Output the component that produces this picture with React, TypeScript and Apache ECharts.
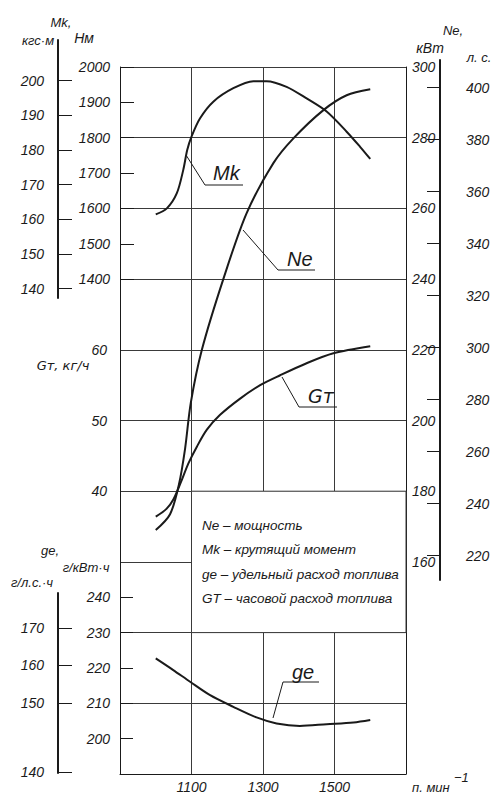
import React, { useEffect, useRef } from "react";
import * as echarts from "echarts";

// ---- tick labels ----
const RPM_LABELS = [1100, 1300, 1500];
const NM_LABELS = [1400, 1500, 1600, 1700, 1800, 1900, 2000];
const KGFM_LABELS = [140, 150, 160, 170, 180, 190, 200];
const KW_LABELS = [160, 180, 200, 220, 240, 260, 280, 300];
const HP_LABELS = [220, 240, 260, 280, 300, 320, 340, 360, 380, 400];
const GT_LABELS = [40, 50, 60];
const GE_KWH_LABELS = [200, 210, 220, 230, 240];
const GE_HP_LABELS = [170, 160, 150, 140];
// where the drawing places the g/(hp·h) ticks, read on the g/(kW·h) scale
const GE_HP_AT_KWH = [231.2, 220.8, 210.1, 190.6];

// ---- curves ----
const MK_RPM = [1000, 1031, 1059, 1077, 1088, 1100, 1124, 1161, 1217, 1273, 1310, 1366, 1422, 1478, 1534, 1571, 1600];
const MK_NM = [1583, 1600, 1643, 1709, 1765, 1803, 1855, 1902, 1940, 1960, 1960, 1944, 1911, 1874, 1817, 1775, 1740];

const NE_RPM = [1000, 1040, 1065, 1082, 1098, 1129, 1189, 1254, 1329, 1385, 1469, 1534, 1600];
const NE_KW = [169, 173.5, 182, 192, 205, 220, 240, 258.6, 272.8, 279.8, 287.8, 292, 293.7];

const GT_RPM = [1000, 1030, 1050, 1073, 1091, 1115, 1143, 1180, 1236, 1292, 1348, 1422, 1497, 1600];
const GT_KGH = [36.4, 37.5, 38.9, 41.6, 43.9, 46.3, 48.7, 50.8, 53.1, 55, 56.4, 58.1, 59.5, 60.5];

const GE_RPM = [1000, 1049, 1096, 1152, 1217, 1282, 1338, 1403, 1478, 1553, 1600];
const GE_GKWH = [222.7, 219.4, 216.1, 212.3, 209, 206, 204.3, 203.6, 204.1, 204.6, 205.3];

const LEGEND_LINES = [
  "Ne – мощность",
  "Mk – крутящий момент",
  "ge – удельный расход топлива",
  "GT – часовой расход топлива",
];

const KW_PER_HP = 0.73549875;
const NM_PER_KGFM = 9.80665;

// ---- layout ----
const W = 500;
const H = 796;
const PLOT = { left: 120, top: 67, width: 286, height: 707 };
const RPM_RANGE = [900, 1700];
const KW_RANGE = [100, 300];
const NM_RANGE = [0, 2000];
const GT_RANGE = [0, 100];
const GE_RANGE = [190, 390];

const FONT = '"Liberation Sans", "DejaVu Sans", sans-serif';
const FONT_UP = '"DejaVu Sans", sans-serif';
const INK = "#1a1a1a";

const valAtY = (y: number, r: number[]) =>
  r[1] - ((y - PLOT.top) / PLOT.height) * (r[1] - r[0]);

const zip = (a: number[], b: number[]) => a.map((v, i) => [v, b[i]]);

const plain = (v: number) => String(v);

const lbl = (size = 14) => ({
  fontFamily: FONT,
  fontStyle: "italic" as const,
  fontSize: size,
  color: INK,
  formatter: plain,
});

const txt = (text: string, x: number, y: number, size = 14, align = "center", family = FONT) => ({
  type: "text",
  x,
  y,
  z: 100,
  silent: true,
  style: {
    text,
    fill: INK,
    font: `italic ${size}px ${family}`,
    textAlign: align,
    textVerticalAlign: "middle",
  },
});

const leader = (pts: number[][]) => ({
  type: "polyline",
  z: 100,
  silent: true,
  shape: { points: pts },
  style: { stroke: INK, lineWidth: 1, fill: null },
});

export default function App() {
  const ref = useRef<HTMLDivElement>(null);

  useEffect(() => {
    if (!ref.current) return;
    const chart = echarts.init(ref.current, undefined, { renderer: "svg" });

    const hpTop = valAtY(60, KW_RANGE) / KW_PER_HP;
    const hpBot = valAtY(580, KW_RANGE) / KW_PER_HP;
    const kgfTop = valAtY(40, NM_RANGE) / NM_PER_KGFM;
    const kgfBot = valAtY(298, NM_RANGE) / NM_PER_KGFM;
    const geHpTop = valAtY(593, GE_RANGE);
    const geHpBot = valAtY(773, GE_RANGE);

    const axisLine = (w = 1) => ({ show: true, lineStyle: { color: INK, width: w } });
    const hiddenX = (gi: number) => ({ gridIndex: gi, type: "value", show: false, min: 0, max: 1 });

    const curve = (name: string, data: number[][], yi: number, extra: any = {}) => ({
      name,
      type: "line",
      xAxisIndex: 0,
      yAxisIndex: yi,
      data,
      smooth: 0.3,
      symbol: "none",
      silent: true,
      z: 5,
      lineStyle: { color: INK, width: 2 },
      ...extra,
    });

    chart.setOption({
      animation: false,
      backgroundColor: "#ffffff",
      grid: [
        { left: PLOT.left, top: PLOT.top, width: PLOT.width, height: PLOT.height },
        { left: 440, top: 60, width: 15, height: 520 },
        { left: 58, top: 40, width: 12, height: 258 },
        { left: 58, top: 593, width: 12, height: 180 },
      ],
      xAxis: [
        {
          gridIndex: 0,
          type: "value",
          min: RPM_RANGE[0],
          max: RPM_RANGE[1],
          interval: 200,
          axisLine: axisLine(1),
          axisTick: { show: false },
          splitLine: { show: true, lineStyle: { color: "#3a3a3a", width: 1 } },
          axisLabel: { ...lbl(14), customValues: RPM_LABELS, margin: 6 },
        },
        hiddenX(1),
        hiddenX(2),
        hiddenX(3),
      ],
      yAxis: [
        {
          gridIndex: 0,
          type: "value",
          position: "right",
          min: KW_RANGE[0],
          max: KW_RANGE[1],
          interval: 20,
          axisLine: axisLine(1),
          axisTick: { show: false },
          splitLine: { show: true, lineStyle: { color: "#3a3a3a", width: 1 } },
          axisLabel: { ...lbl(14), customValues: KW_LABELS, margin: 6 },
        },
        {
          gridIndex: 0,
          type: "value",
          position: "left",
          min: NM_RANGE[0],
          max: NM_RANGE[1],
          interval: 100,
          axisLine: axisLine(1),
          axisTick: { show: true, inside: true, length: 14, customValues: NM_LABELS, lineStyle: { color: INK } },
          splitLine: { show: false },
          axisLabel: { ...lbl(14), customValues: NM_LABELS, margin: 10 },
        },
        {
          gridIndex: 0,
          type: "value",
          position: "left",
          min: GT_RANGE[0],
          max: GT_RANGE[1],
          interval: 10,
          axisLine: { show: false },
          axisTick: { show: false },
          splitLine: { show: false },
          axisLabel: { ...lbl(14), customValues: GT_LABELS, margin: 13 },
        },
        {
          gridIndex: 0,
          type: "value",
          position: "left",
          min: GE_RANGE[0],
          max: GE_RANGE[1],
          interval: 10,
          axisLine: { show: false },
          axisTick: { show: true, inside: true, length: 13, customValues: GE_KWH_LABELS, lineStyle: { color: INK } },
          splitLine: { show: false },
          axisLabel: { ...lbl(14), customValues: GE_KWH_LABELS, margin: 10 },
        },
        {
          gridIndex: 1,
          type: "value",
          position: "right",
          min: hpBot,
          max: hpTop,
          axisLine: axisLine(2),
          axisTick: { show: true, inside: true, length: 13, customValues: HP_LABELS, lineStyle: { color: INK } },
          splitLine: { show: false },
          axisLabel: { ...lbl(14), customValues: HP_LABELS, margin: 11 },
        },
        {
          gridIndex: 2,
          type: "value",
          position: "left",
          min: kgfBot,
          max: kgfTop,
          axisLine: axisLine(2),
          axisTick: { show: true, inside: true, length: 14, customValues: KGFM_LABELS, lineStyle: { color: INK } },
          splitLine: { show: false },
          axisLabel: { ...lbl(14), customValues: KGFM_LABELS, margin: 14 },
        },
        {
          gridIndex: 3,
          type: "value",
          position: "left",
          min: geHpBot,
          max: geHpTop,
          axisLine: axisLine(2),
          axisTick: { show: true, inside: true, length: 14, customValues: GE_HP_AT_KWH, lineStyle: { color: INK } },
          splitLine: { show: false },
          axisLabel: {
            ...lbl(14),
            customValues: GE_HP_AT_KWH,
            margin: 14,
            formatter: (v: number) => {
              const i = GE_HP_AT_KWH.findIndex((p) => Math.abs(p - v) < 1e-6);
              return i >= 0 ? String(GE_HP_LABELS[i]) : "";
            },
          },
        },
      ],
      series: [
        curve("Mk", zip(MK_RPM, MK_NM), 1),
        curve("Ne", zip(NE_RPM, NE_KW), 0),
        curve("Gt", zip(GT_RPM, GT_KGH), 2),
        curve("ge", zip(GE_RPM, GE_GKWH), 3, {
          markArea: {
            silent: true,
            itemStyle: { color: "#ffffff", borderColor: "#3a3a3a", borderWidth: 1 },
            data: [[{ coord: [1100, 270] }, { coord: [1700, 230] }]],
          },
        }),
      ],
      graphic: [
        // axis titles
        txt("Mk,", 61, 22, 13),
        txt("кгс·м", 38, 40, 13),
        txt("Нм", 84, 38, 14),
        txt("Ne,", 453, 30, 13),
        txt("кВт", 430, 48, 14),
        txt("л. с.", 479, 57, 13),
        txt("Gт, кг/ч", 63, 365, 13, "center", FONT_UP),
        txt("ge,", 50, 550, 13),
        txt("г/кВт·ч", 86, 567, 13),
        txt("г/л.с.·ч", 32, 582, 13),
        txt("п. мин", 412, 787, 13, "left"),
        txt("−1", 454, 777, 13, "left"),
        // curve tags
        leader([[186, 155], [205, 185], [243, 185]]),
        txt("Mk", 213, 173, 20, "left"),
        leader([[243, 230], [278, 270], [315, 270]]),
        txt("Ne", 287, 259, 20, "left"),
        leader([[282, 377], [299, 407], [337, 407]]),
        txt("Gт", 308, 396, 19, "left", FONT_UP),
        leader([[273, 718], [283, 682], [319, 682]]),
        txt("ge", 292, 672, 20, "left"),
        // legend texts
        ...LEGEND_LINES.map((t, i) => txt(t, 202, [525, 549, 574, 598][i], 13.5, "left")),
      ],
    });

    return () => chart.dispose();
  }, []);

  return (
    <div
      ref={ref}
      style={{ position: "fixed", left: 0, top: 0, width: W, height: H, background: "#fff" }}
    />
  );
}
